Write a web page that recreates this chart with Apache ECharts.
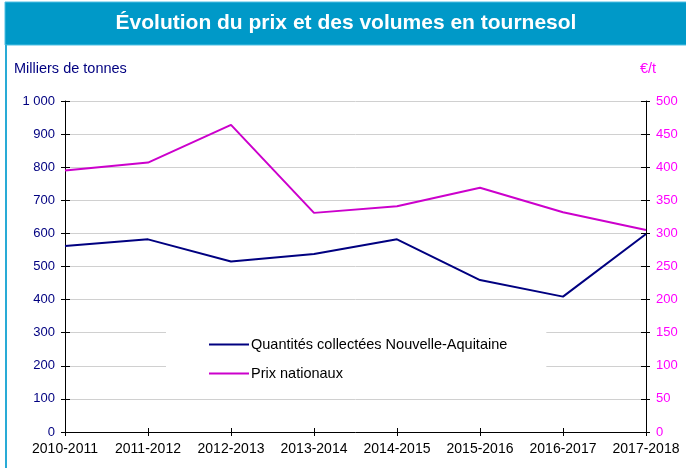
<!DOCTYPE html>
<html>
<head>
<meta charset="utf-8">
<script src="https://cdn.jsdelivr.net/npm/echarts@6/dist/echarts.min.js"></script>
<style>
  html, body { margin: 0; padding: 0; background: #fff; }
  #main { width: 686px; height: 468px; }
</style>
</head>
<body>
<div id="main"></div>
<script>
// campagnes
const campagnes = ['2010-2011', '2011-2012', '2012-2013', '2013-2014', '2014-2015', '2015-2016', '2016-2017', '2017-2018']
// milliers de tonnes (axe gauche)
const quantites = [562, 582, 515, 538, 582, 459, 409, 598]
// €/t (axe droit)
const prix = [395, 407, 464, 331, 341, 369, 332, 305]

const FONT = 'Liberation Sans, Arial, sans-serif'
const NAVY = '#000080'
const MAGENTA = '#CC00CC'

let myChart = echarts.init(document.getElementById('main'))

let option = {
  animation: false,
  textStyle: { fontFamily: FONT },
  graphic: [
    {
      type: 'rect',
      shape: { x: 5, y: 2, width: 682, height: 43 },
      style: { fill: '#0099C8', stroke: '#4FC0E4', lineWidth: 1 },
      z: 0
    },
    {
      type: 'line',
      shape: { x1: 6, y1: 45, x2: 6, y2: 468 },
      style: { stroke: '#29ABD6', lineWidth: 2 }
    },
    {
      type: 'text',
      x: 346,
      y: 23,
      style: {
        text: 'Évolution du prix et des volumes en tournesol',
        fill: '#fff',
        font: 'bold 21px ' + FONT,
        align: 'center',
        verticalAlign: 'middle'
      },
      z: 2
    },
    {
      type: 'text',
      x: 14,
      y: 69,
      style: { text: 'Milliers de tonnes', fill: NAVY, font: '14.5px ' + FONT, verticalAlign: 'middle' }
    },
    {
      type: 'text',
      x: 640,
      y: 69,
      style: { text: '€/t', fill: '#FF00FF', font: '14.5px ' + FONT, verticalAlign: 'middle' }
    }
  ],
  legend: {
    orient: 'vertical',
    left: 166,
    top: 325,
    padding: [12, 39, 16, 43],
    backgroundColor: '#fff',
    itemWidth: 40,
    itemHeight: 2,
    itemGap: 14,
    icon: 'rect',
    textStyle: { color: '#000', fontSize: 14.5, fontFamily: FONT, padding: [0, 0, 0, -3] },
    data: ['Quantités collectées Nouvelle-Aquitaine', 'Prix nationaux'],
    z: 5
  },
  grid: { left: 65, right: 40, top: 101, bottom: 36 },
  xAxis: [
    {
      type: 'category',
      data: campagnes,
      boundaryGap: false,
      axisLine: { lineStyle: { color: '#000', width: 1 } },
      axisTick: { length: 4, lineStyle: { color: '#000' } },
      axisLabel: { color: '#000', fontSize: 14, margin: 10, fontFamily: FONT, interval: 0 }
    },
    {
      type: 'category',
      data: campagnes,
      boundaryGap: false,
      position: 'bottom',
      axisLine: { show: false },
      axisTick: { inside: true, length: 4, lineStyle: { color: '#000' } },
      axisLabel: { show: false }
    }
  ],
  yAxis: [
    {
      type: 'value',
      min: 0,
      max: 1000,
      interval: 100,
      axisLine: { show: true, lineStyle: { color: '#000' } },
      axisTick: { show: true, length: 4, lineStyle: { color: '#000' } },
      axisLabel: {
        color: NAVY,
        fontSize: 13,
        margin: 10,
        fontFamily: FONT,
        formatter: v => v >= 1000 ? '1 000' : String(v)
      },
      splitLine: { lineStyle: { color: '#D0D0D0', width: 1 } }
    },
    {
      type: 'value',
      min: 0,
      max: 500,
      interval: 50,
      position: 'right',
      axisLine: { show: true, lineStyle: { color: '#000' } },
      axisTick: { show: true, length: 4, lineStyle: { color: '#000' } },
      axisLabel: { color: '#FF00FF', fontSize: 13, margin: 10, fontFamily: FONT },
      splitLine: { show: false }
    },
    {
      type: 'value',
      min: 0,
      max: 1000,
      interval: 100,
      position: 'left',
      axisLine: { show: false },
      axisTick: { show: true, inside: true, length: 5, lineStyle: { color: '#000' } },
      axisLabel: { show: false },
      splitLine: { show: false }
    },
    {
      type: 'value',
      min: 0,
      max: 500,
      interval: 50,
      position: 'right',
      axisLine: { show: false },
      axisTick: { show: true, inside: true, length: 5, lineStyle: { color: '#000' } },
      axisLabel: { show: false },
      splitLine: { show: false }
    }
  ],
  series: [
    {
      name: 'Quantités collectées Nouvelle-Aquitaine',
      type: 'line',
      data: quantites,
      yAxisIndex: 0,
      symbol: 'none',
      color: NAVY,
      lineStyle: { color: NAVY, width: 2 },
      z: 3
    },
    {
      name: 'Prix nationaux',
      type: 'line',
      data: prix,
      yAxisIndex: 1,
      symbol: 'none',
      color: MAGENTA,
      lineStyle: { color: MAGENTA, width: 2 },
      z: 3
    }
  ]
}

myChart.setOption(option)
</script>
</body>
</html>
